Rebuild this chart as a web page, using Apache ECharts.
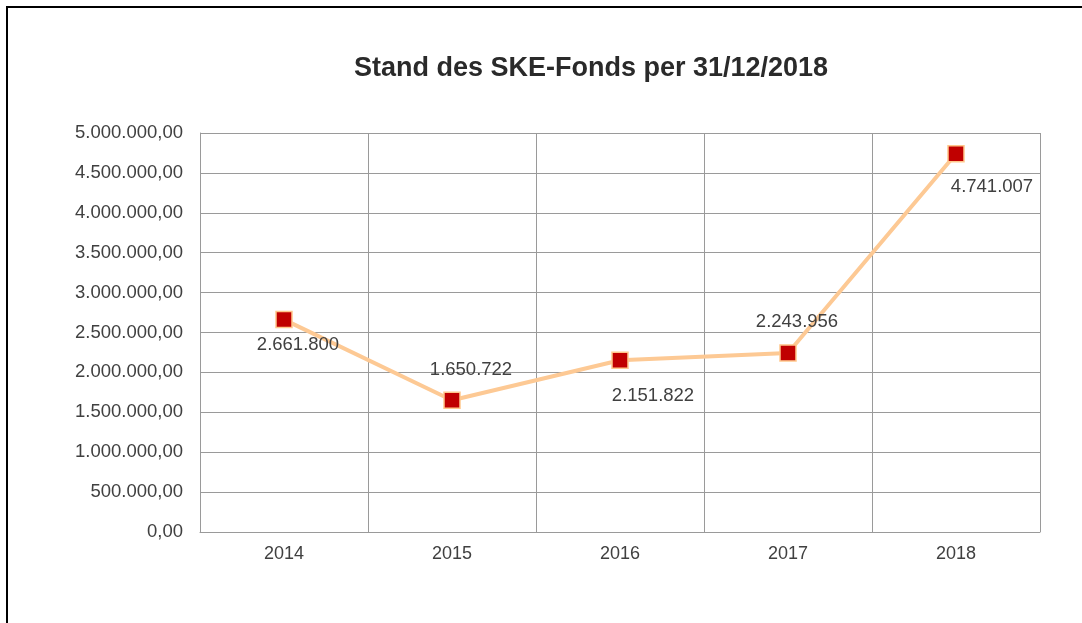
<!DOCTYPE html>
<html>
<head>
<meta charset="utf-8">
<script src="https://cdn.jsdelivr.net/npm/echarts@6/dist/echarts.min.js"></script>
<style>
  html, body { margin: 0; padding: 0; background: #fff; overflow: hidden; }
  #frame { position: absolute; left: 6px; top: 6px; width: 1090px; height: 640px; border: 2px solid #000; }
  #chart { position: absolute; left: 0; top: 0; width: 1082px; height: 623px; }
</style>
</head>
<body>
<div id="frame"></div>
<div id="chart"></div>
<script>
// data
const years = ['2014', '2015', '2016', '2017', '2018']
const fundValues = [2661800, 1650722, 2151822, 2243956, 4741007]
const yTicks = { min: 0, max: 5000000, interval: 500000 }

// where each value label sits relative to its marker (dx, dy)
const labelOffsets = [[14, 25], [19, -30], [33, 36], [9, -31], [36, 33]]

function germanNumber (v, decimals) {
    let parts = v.toFixed(decimals).split('.')
    let int = parts[0].replace(/\B(?=(\d{3})+(?!\d))/g, '.')
    return decimals ? int + ',' + parts[1] : int
}

const myChart = echarts.init(document.getElementById('chart'))
myChart.setOption({
    animation: false,
    textStyle: { fontFamily: 'Liberation Sans, Arial, sans-serif' },
    title: {
        text: 'Stand des SKE-Fonds per 31/12/2018',
        left: 586,
        top: 50,
        textAlign: 'center',
        textStyle: { fontSize: 27, fontWeight: 'bold', color: '#2a2a2a' }
    },
    grid: { left: 200, right: 42, top: 133, bottom: 91 },
    xAxis: {
        type: 'category',
        data: years,
        boundaryGap: true,
        axisLine: { show: true, lineStyle: { color: '#9a9a9a', width: 1 } },
        axisTick: { show: false },
        splitLine: { show: true, lineStyle: { color: '#9a9a9a', width: 1 } },
        axisLabel: { fontSize: 18, color: '#404040', margin: 13 }
    },
    yAxis: {
        type: 'value',
        min: yTicks.min,
        max: yTicks.max,
        interval: yTicks.interval,
        axisLine: { show: true, lineStyle: { color: '#9a9a9a', width: 1 } },
        axisTick: { show: false },
        splitLine: { show: true, lineStyle: { color: '#9a9a9a', width: 1 } },
        axisLabel: {
            fontSize: 18.5,
            color: '#404040',
            margin: 17,
            formatter: v => germanNumber(v, 2)
        }
    },
    series: [{
        type: 'line',
        data: fundValues.map((v, i) => ({
            value: v,
            label: { offset: labelOffsets[i] }
        })),
        symbol: 'rect',
        symbolSize: 16,
        lineStyle: { color: '#fdc994', width: 4 },
        itemStyle: { color: '#c00000', borderColor: '#ffc78c', borderWidth: 1.5 },
        label: {
            show: true,
            position: 'inside',
            color: '#404040',
            fontSize: 18.5,
            formatter: p => germanNumber(p.value, 0)
        }
    }]
})
</script>
</body>
</html>
